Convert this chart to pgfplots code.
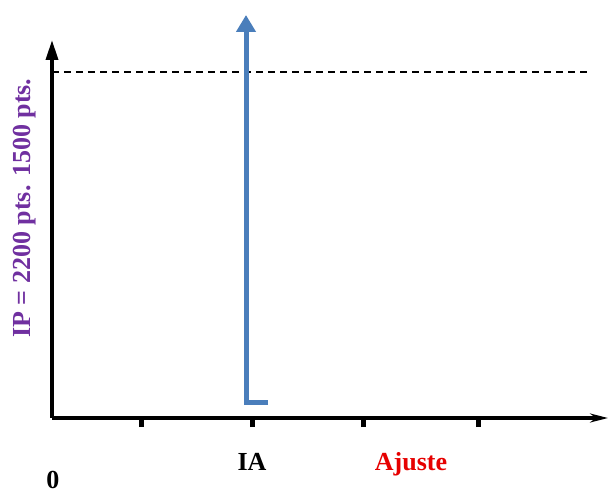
\documentclass[border=0pt]{standalone}
\usepackage{pgfplots}
\pgfplotsset{compat=1.18}
\usepackage{fontspec}
\setmainfont{Liberation Serif}
\usetikzlibrary{arrows.meta}
\definecolor{arrowblue}{RGB}{74,126,187}
\definecolor{ippurple}{RGB}{112,48,160}
\definecolor{ajred}{RGB}{230,0,0}
\begin{document}
\begin{tikzpicture}
\begin{axis}[
  x=1pt, y=1pt,
  xmin=0, xmax=556, ymin=0, ymax=378,
  axis lines=left,
  clip=false,
  x axis line style={line width=3.5pt, -{Stealth[length=18pt,width=9pt,inset=6pt]}},
  y axis line style={line width=3.5pt, -{Triangle[length=20pt,width=12pt]}},
  xtick={89,200,311,426},
  xticklabels={,IA,,},
  ytick=\empty,
  tick align=outside,
  major tick length=9pt,
  every tick/.style={black, line width=5pt},
  xticklabel style={font=\fontsize{26}{28}\selectfont\bfseries, anchor=base, yshift=-43pt},
  extra x ticks={359},
  extra x tick labels={Ajuste},
  extra x tick style={tick style={draw=none}, xticklabel style={text=ajred}},
  ylabel={IP = 2200 pts. 1500 pts.},
  ylabel style={at={(axis cs:-27,210)}, rotate=0, anchor=center, font=\fontsize{26}{28}\selectfont\bfseries, text=ippurple},
]
\addplot[black, line width=1.5pt, dash pattern=on 7pt off 5pt] coordinates {(0,346) (536,346)};
\addplot[arrowblue, line width=5pt, -{Triangle[length=17pt,width=19pt]}] coordinates {(216,16) (194,16) (194,403)};
\node[font=\fontsize{26}{28}\selectfont\bfseries, anchor=south] at (axis cs:1,-74) {0};
\coordinate (bl) at (axis cs:-52,-75);
\coordinate (tr) at (axis cs:558,418);
\end{axis}
\pgfresetboundingbox
\useasboundingbox (bl) rectangle (tr);
\end{tikzpicture}
\end{document}
